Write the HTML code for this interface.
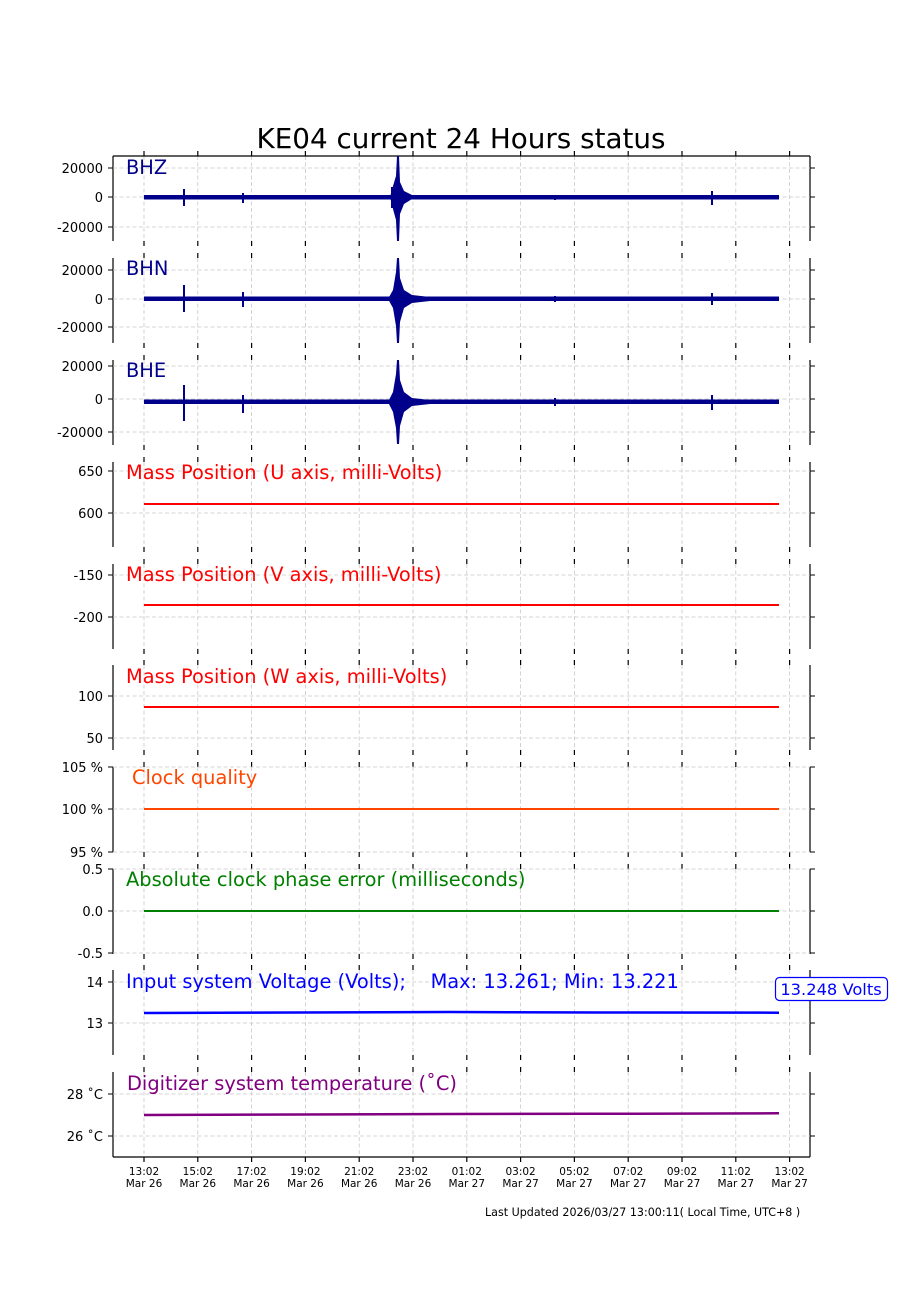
<!DOCTYPE html>
<html><head><meta charset="utf-8"><style>
html,body{margin:0;padding:0;background:#fff}
svg{display:block;font-family:"DejaVu Sans","Liberation Sans",sans-serif}
.yl{font-size:13px;text-anchor:end}
.xl{font-size:10.5px;text-anchor:middle}
.tt{font-size:19.4px}
</style></head><body>
<svg width="900" height="1300" viewBox="0 0 900 1300" xmlns="http://www.w3.org/2000/svg">
<defs>
<g id="vg" stroke="#c8c8c8" stroke-width="0.8" stroke-dasharray="4,2.5">
<line x1="144" y1="0" x2="144" y2="85"/><line x1="197.8" y1="0" x2="197.8" y2="85"/><line x1="251.6" y1="0" x2="251.6" y2="85"/><line x1="305.4" y1="0" x2="305.4" y2="85"/><line x1="359.2" y1="0" x2="359.2" y2="85"/><line x1="413" y1="0" x2="413" y2="85"/><line x1="466.8" y1="0" x2="466.8" y2="85"/><line x1="520.6" y1="0" x2="520.6" y2="85"/><line x1="574.4" y1="0" x2="574.4" y2="85"/><line x1="628.2" y1="0" x2="628.2" y2="85"/><line x1="682" y1="0" x2="682" y2="85"/><line x1="735.8" y1="0" x2="735.8" y2="85"/><line x1="789.6" y1="0" x2="789.6" y2="85"/>
</g>
<g id="tk" stroke="#000" stroke-width="1.2">
<line x1="144" y1="-5" x2="144" y2="0"/><line x1="197.8" y1="-5" x2="197.8" y2="0"/><line x1="251.6" y1="-5" x2="251.6" y2="0"/><line x1="305.4" y1="-5" x2="305.4" y2="0"/><line x1="359.2" y1="-5" x2="359.2" y2="0"/><line x1="413" y1="-5" x2="413" y2="0"/><line x1="466.8" y1="-5" x2="466.8" y2="0"/><line x1="520.6" y1="-5" x2="520.6" y2="0"/><line x1="574.4" y1="-5" x2="574.4" y2="0"/><line x1="628.2" y1="-5" x2="628.2" y2="0"/><line x1="682" y1="-5" x2="682" y2="0"/><line x1="735.8" y1="-5" x2="735.8" y2="0"/><line x1="789.6" y1="-5" x2="789.6" y2="0"/>
<line x1="144" y1="90" x2="144" y2="85"/><line x1="197.8" y1="90" x2="197.8" y2="85"/><line x1="251.6" y1="90" x2="251.6" y2="85"/><line x1="305.4" y1="90" x2="305.4" y2="85"/><line x1="359.2" y1="90" x2="359.2" y2="85"/><line x1="413" y1="90" x2="413" y2="85"/><line x1="466.8" y1="90" x2="466.8" y2="85"/><line x1="520.6" y1="90" x2="520.6" y2="85"/><line x1="574.4" y1="90" x2="574.4" y2="85"/><line x1="628.2" y1="90" x2="628.2" y2="85"/><line x1="682" y1="90" x2="682" y2="85"/><line x1="735.8" y1="90" x2="735.8" y2="85"/><line x1="789.6" y1="90" x2="789.6" y2="85"/>
<line x1="113" y1="0" x2="113" y2="85"/><line x1="810" y1="0" x2="810" y2="85"/>
</g>
</defs>

<text x="461" y="148" font-size="27.8" text-anchor="middle">KE04 current 24 Hours status</text>

<use href="#vg" y="156"/><use href="#vg" y="258"/><use href="#vg" y="360"/><use href="#vg" y="462"/><use href="#vg" y="564"/><use href="#vg" y="665"/><use href="#vg" y="767"/><use href="#vg" y="869"/><use href="#vg" y="970"/><use href="#vg" y="1072"/>
<use href="#tk" y="156"/><use href="#tk" y="258"/><use href="#tk" y="360"/><use href="#tk" y="462"/><use href="#tk" y="564"/><use href="#tk" y="665"/><use href="#tk" y="767"/><use href="#tk" y="869"/><use href="#tk" y="970"/><use href="#tk" y="1072"/>
<line x1="113" y1="156" x2="810" y2="156" stroke="#000" stroke-width="1.2"/>
<line x1="113" y1="1157" x2="810" y2="1157" stroke="#000" stroke-width="1.2"/>

<g stroke="#c8c8c8" stroke-width="0.8" stroke-dasharray="4,2.5">
<line x1="113" x2="810" y1="168" y2="168"/><line x1="113" x2="810" y1="197" y2="197"/><line x1="113" x2="810" y1="227" y2="227"/>
<line x1="113" x2="810" y1="270" y2="270"/><line x1="113" x2="810" y1="299" y2="299"/><line x1="113" x2="810" y1="327" y2="327"/>
<line x1="113" x2="810" y1="366" y2="366"/><line x1="113" x2="810" y1="399" y2="399"/><line x1="113" x2="810" y1="432" y2="432"/>
<line x1="113" x2="810" y1="471" y2="471"/><line x1="113" x2="810" y1="513" y2="513"/>
<line x1="113" x2="810" y1="575" y2="575"/><line x1="113" x2="810" y1="617" y2="617"/>
<line x1="113" x2="810" y1="696" y2="696"/><line x1="113" x2="810" y1="738" y2="738"/>
<line x1="113" x2="810" y1="767" y2="767"/><line x1="113" x2="810" y1="809" y2="809"/><line x1="113" x2="810" y1="852" y2="852"/>
<line x1="113" x2="810" y1="869" y2="869"/><line x1="113" x2="810" y1="911" y2="911"/><line x1="113" x2="810" y1="953" y2="953"/>
<line x1="113" x2="810" y1="982" y2="982"/><line x1="113" x2="810" y1="1023" y2="1023"/>
<line x1="113" x2="810" y1="1094" y2="1094"/><line x1="113" x2="810" y1="1136" y2="1136"/>
</g>
<g stroke="#000" stroke-width="1">
<path d="M108 168H113M108 197H113M108 227H113M810 168H815M810 197H815M810 227H815
M108 270H113M108 299H113M108 327H113M810 270H815M810 299H815M810 327H815
M108 366H113M108 399H113M108 432H113M810 366H815M810 399H815M810 432H815
M108 471H113M108 513H113M810 471H815M810 513H815
M108 575H113M108 617H113M810 575H815M810 617H815
M108 696H113M108 738H113M810 696H815M810 738H815
M108 767H113M108 809H113M108 852H113M810 767H815M810 809H815M810 852H815
M108 869H113M108 911H113M108 953H113M810 869H815M810 911H815M810 953H815
M108 982H113M108 1023H113M810 982H815M810 1023H815
M108 1094H113M108 1136H113M810 1094H815M810 1136H815"/>
</g>
<g class="yl">
<text x="103" y="173">20000</text><text x="103" y="202">0</text><text x="103" y="232">-20000</text>
<text x="103" y="275">20000</text><text x="103" y="304">0</text><text x="103" y="332">-20000</text>
<text x="103" y="371">20000</text><text x="103" y="404">0</text><text x="103" y="437">-20000</text>
<text x="103" y="476">650</text><text x="103" y="518">600</text>
<text x="103" y="580">-150</text><text x="103" y="622">-200</text>
<text x="103" y="701">100</text><text x="103" y="743">50</text>
<text x="103" y="772">105 %</text><text x="103" y="814">100 %</text><text x="103" y="857">95 %</text>
<text x="103" y="874">0.5</text><text x="103" y="916">0.0</text><text x="103" y="958">-0.5</text>
<text x="103" y="987">14</text><text x="103" y="1028">13</text>
<text x="103" y="1099">28 ˚C</text><text x="103" y="1141">26 ˚C</text>
</g>

<g fill="#00008b" stroke="#00008b">
<rect x="144" y="195" width="635" height="4.5" stroke="none"/>
<path d="M184 189V206M243 193V203M712 191V205M392 187V208M555 195V200" stroke-width="2"/>
<polygon points="390,197 393,186 396,176 397,156 399,156 400,182 404,191 412,195 430,196 430,198 412,199 404,204 400,214 399,241 397,241 396,220 393,209" stroke="none"/>

<rect x="144" y="296.5" width="635" height="4.5" stroke="none"/>
<path d="M184 285V312M243 292V307M712 293V305M555 296V302" stroke-width="2"/>
<polygon points="388,299 393,290 396,272 397,258 399,258 400,278 404,290 412,295 430,297 430,301 412,303 404,308 400,322 399,343 397,343 396,326 393,308" stroke="none"/>

<rect x="144" y="399.5" width="635" height="4.5" stroke="none"/>
<path d="M184 385V421M243 395V413M712 395V410M555 398V406" stroke-width="2"/>
<polygon points="388,402 393,392 396,374 397,360 399,360 400,380 404,392 412,398 430,400 430,404 412,406 404,412 400,426 399,444 397,444 396,428 393,412" stroke="none"/>
</g>

<g fill="none" stroke-width="2">
<line x1="144" x2="779" y1="504" y2="504" stroke="#ff0000"/>
<line x1="144" x2="779" y1="605" y2="605" stroke="#ff0000"/>
<line x1="144" x2="779" y1="707" y2="707" stroke="#ff0000"/>
<line x1="144" x2="779" y1="809" y2="809" stroke="#ff4500"/>
<line x1="144" x2="779" y1="911" y2="911" stroke="#008000"/>
<polyline points="144,1013 300,1012.5 450,1012 600,1012.5 779,1012.7" stroke="#0000ff" stroke-width="2.5"/>
<polyline points="144,1115 300,1114.5 450,1114 600,1113.8 779,1113.3" stroke="#800080" stroke-width="2.5"/>
</g>

<text class="tt" x="126" y="174" fill="#00008b">BHZ</text>
<text class="tt" x="126" y="275" fill="#00008b">BHN</text>
<text class="tt" x="126" y="377" fill="#00008b">BHE</text>
<text class="tt" x="126" y="479" fill="#ff0000">Mass Position (U axis, milli-Volts)</text>
<text class="tt" x="126" y="581" fill="#ff0000">Mass Position (V axis, milli-Volts)</text>
<text class="tt" x="126" y="683" fill="#ff0000">Mass Position (W axis, milli-Volts)</text>
<text class="tt" x="132" y="784" fill="#ff4500">Clock quality</text>
<text class="tt" x="126" y="886" fill="#008000">Absolute clock phase error (milliseconds)</text>
<text class="tt" x="126" y="988" fill="#0000ff" xml:space="preserve">Input system Voltage (Volts);    Max: 13.261; Min: 13.221</text>
<text class="tt" x="127" y="1090" fill="#800080">Digitizer system temperature (˚C)</text>

<rect x="775.5" y="977.5" width="112" height="23" rx="4" fill="#fff" stroke="#0000ff" stroke-width="1.2"/>
<text x="831" y="995" font-size="16.3" fill="#0000ff" text-anchor="middle">13.248 Volts</text>

<g class="xl">
<text x="144" y="1175">13:02</text><text x="144" y="1187">Mar 26</text>
<text x="197.8" y="1175">15:02</text><text x="197.8" y="1187">Mar 26</text>
<text x="251.6" y="1175">17:02</text><text x="251.6" y="1187">Mar 26</text>
<text x="305.4" y="1175">19:02</text><text x="305.4" y="1187">Mar 26</text>
<text x="359.2" y="1175">21:02</text><text x="359.2" y="1187">Mar 26</text>
<text x="413" y="1175">23:02</text><text x="413" y="1187">Mar 26</text>
<text x="466.8" y="1175">01:02</text><text x="466.8" y="1187">Mar 27</text>
<text x="520.6" y="1175">03:02</text><text x="520.6" y="1187">Mar 27</text>
<text x="574.4" y="1175">05:02</text><text x="574.4" y="1187">Mar 27</text>
<text x="628.2" y="1175">07:02</text><text x="628.2" y="1187">Mar 27</text>
<text x="682" y="1175">09:02</text><text x="682" y="1187">Mar 27</text>
<text x="735.8" y="1175">11:02</text><text x="735.8" y="1187">Mar 27</text>
<text x="789.6" y="1175">13:02</text><text x="789.6" y="1187">Mar 27</text>
</g>
<text x="485" y="1216" font-size="11.1">Last Updated 2026/03/27 13:00:11( Local Time, UTC+8 )</text>
</svg>
</body></html>
